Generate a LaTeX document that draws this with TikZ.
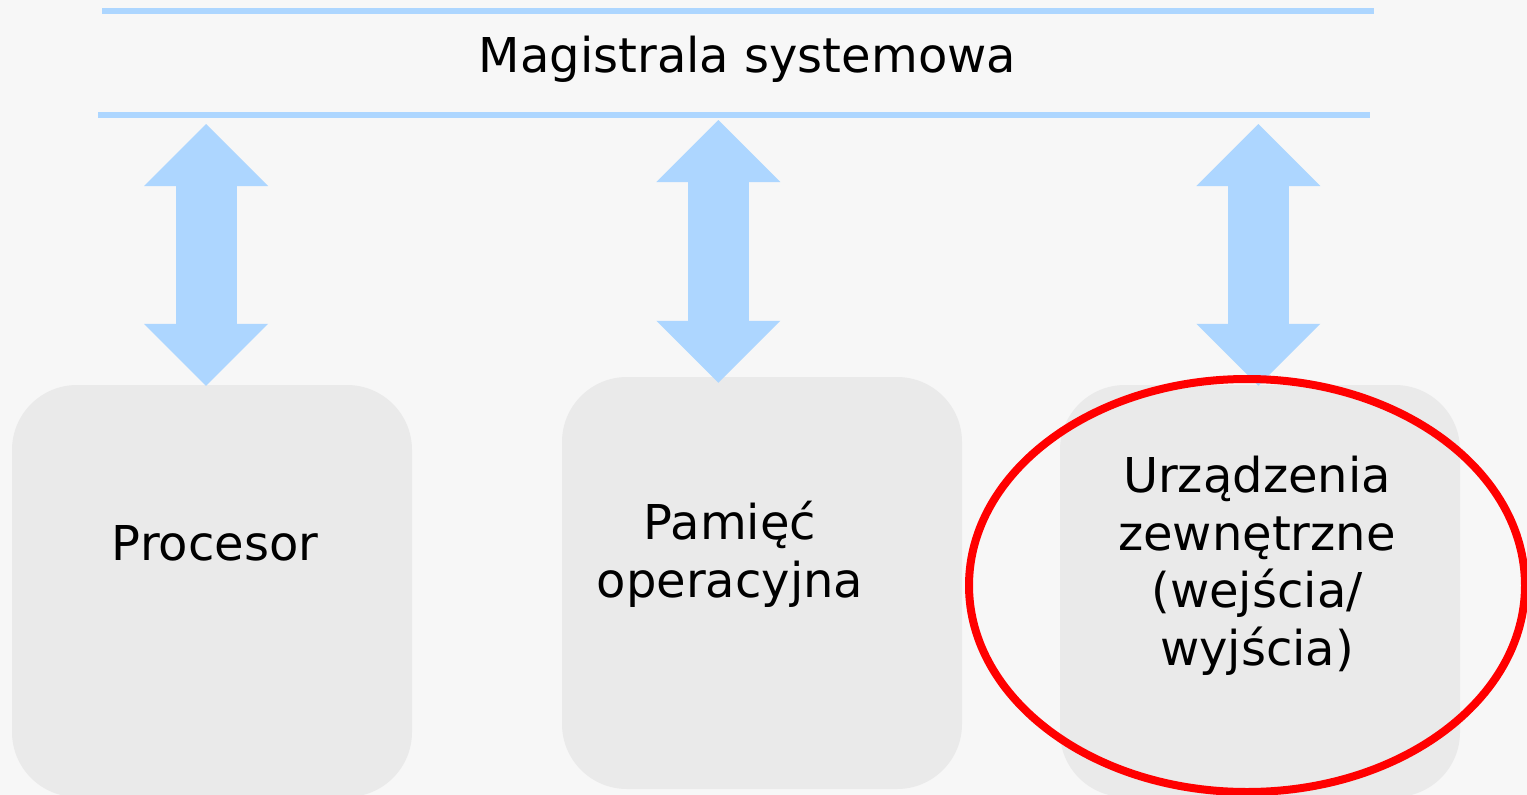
\documentclass[tikz,border=0pt]{standalone}
\usepackage{fontspec}
\setmainfont{DejaVu Sans}
\usetikzlibrary{arrows.meta,shapes.geometric}
\definecolor{canvas}{HTML}{F7F7F7}
\definecolor{boxgray}{HTML}{EAEAEA}
\definecolor{buslight}{RGB}{173,214,255}
\definecolor{markred}{HTML}{FF0000}
\tikzset{
  bighead/.tip={Triangle[length=62pt,width=124pt,line width=0pt]},
}
\begin{document}
\begin{tikzpicture}[x=1pt,y=-1pt,
  unit/.style={fill=boxgray, rounded corners=65pt, minimum width=400pt,
    minimum height=412pt, inner sep=0pt},
  caption/.style={font=\fontsize{48}{57.5}\selectfont, align=center, inner sep=0pt},
  busline/.style={draw=buslight, line width=6pt},
  busarrow/.style={draw=buslight, line width=61pt, bighead-bighead},
  ring/.style={ellipse, draw=markred, line width=8pt, inner sep=0pt,
    minimum width=556pt, minimum height=413pt}
]
\useasboundingbox (0,0) rectangle (1527,795);
\fill[canvas] (0,0) rectangle (1527,795);

% system bus
\coordinate (busAL) at (102,11);
\coordinate (busAR) at (1374,11);
\coordinate (busBL) at (98,115);
\coordinate (busBR) at (1370,115);
\draw[busline] (busAL) -- (busAR);
\draw[busline] (busBL) -- (busBR);
\node[caption, anchor=base] (bus) at (747.5,72) {Magistrala systemowa};

% units
\node[unit] (proc) at (212,591) {};
\node[unit] (mem)  at (762,583) {};
\node[unit] (io)   at (1260,591) {};

% captions (base anchor sits on the last line)
\node[caption, anchor=base] (procT) at (215,560.7) {Procesor};
\node[caption, anchor=base] (memT) at (730,597) {Pamięć\\operacyjna};
\node[caption, anchor=base] (ioT) at (1257,665) {Urządzenia\\zewnętrzne\\(wejścia/\\wyjścia)};

% bus connections
\coordinate (t1) at (206,124);
\coordinate (t2) at (718.3,120);
\coordinate (t3) at (1258.3,124);
\coordinate (b1) at (t1 |- proc.north);
\coordinate (b2) at (t2 |- mem.north);
\coordinate (b3) at (t3 |- io.north);
\draw[busarrow] (t1) -- ([yshift=-1pt]b1);
\draw[busarrow] (t2) -- ([yshift=-6pt]b2);
\draw[busarrow] (t3) -- ([yshift=-1pt]b3);

% highlight
\node[ring] (mark) at (1247,585.5) {};
\end{tikzpicture}
\end{document}
